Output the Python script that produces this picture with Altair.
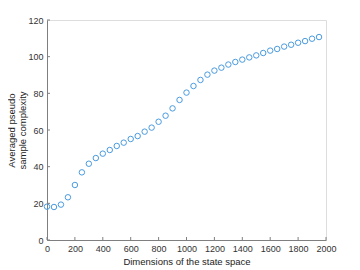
import altair as alt
import pandas as pd

dims = list(range(0, 2000, 50))
complexity = [18.2, 18.0, 19.3, 23.3, 30.0, 36.9, 41.6, 44.7, 47.1, 49.1,
              51.3, 53.1, 55.1, 56.7, 59.1, 61.3, 64.5, 67.8, 71.8, 76.4,
              80.4, 84.0, 87.3, 90.2, 92.4, 94.0, 95.7, 97.1, 98.4, 99.6,
              100.7, 102.0, 103.3, 104.2, 105.5, 106.5, 107.6, 108.5, 109.8, 110.7]
x_ticks = list(range(0, 2001, 200))
y_ticks = list(range(0, 121, 20))

df = pd.DataFrame({"d": dims, "c": complexity})
xs = alt.Scale(domain=[0, 2000], nice=False)
ys = alt.Scale(domain=[0, 120], nice=False)

font = "Liberation Sans"

x_axis = alt.Axis(title="Dimensions of the state space", values=x_ticks, format="d",
                  labelOverlap=False, labelBound=False, labelFlush=False,
                  tickSize=0, labelPadding=4, grid=False, domainColor="#7f7f7f",
                  labelColor="#333333", labelFontSize=9, labelFont=font,
                  titleFont=font, titleFontSize=9.5, titleFontWeight="normal",
                  titleColor="#222222", titlePadding=3)
y_axis = alt.Axis(title=["Averaged pseudo", "sample complexity"], values=y_ticks, format="d",
                  labelOverlap=False, labelBound=False, labelFlush=False,
                  tickSize=0, labelPadding=4, grid=False, domainColor="#7f7f7f",
                  labelColor="#333333", labelFontSize=9, labelFont=font,
                  titleFont=font, titleFontSize=9.5, titleFontWeight="normal",
                  titleColor="#222222", titleLineHeight=11,
                  titleX=-41, titleY=110, titleAngle=270, titleAlign="center",
                  titleBaseline="top")

pts = alt.Chart(df).mark_point(shape="circle", filled=False, size=30,
                               strokeWidth=1, color="#4a9be0", opacity=1).encode(
    x=alt.X("d:Q", scale=xs, axis=x_axis),
    y=alt.Y("c:Q", scale=ys, axis=y_axis),
)

yt = alt.Chart(pd.DataFrame({"v": y_ticks})).mark_rule(color="#7f7f7f", strokeWidth=1).encode(
    y=alt.Y("v:Q", scale=ys, axis=y_axis), x=alt.value(0), x2=alt.value(3))
xt = alt.Chart(pd.DataFrame({"v": x_ticks})).mark_rule(color="#7f7f7f", strokeWidth=1).encode(
    x=alt.X("v:Q", scale=xs, axis=x_axis), y=alt.value(220), y2=alt.value(217))

chart = alt.layer(pts, yt, xt).properties(
    width=279, height=220,
    autosize=alt.AutoSizeParams(type="none"),
    padding={"left": 39, "top": 12, "right": 24, "bottom": 30},
).configure_view(stroke=None).configure(background="white")

chart.save("out.html", embed_options={"renderer": "svg", "actions": False})
